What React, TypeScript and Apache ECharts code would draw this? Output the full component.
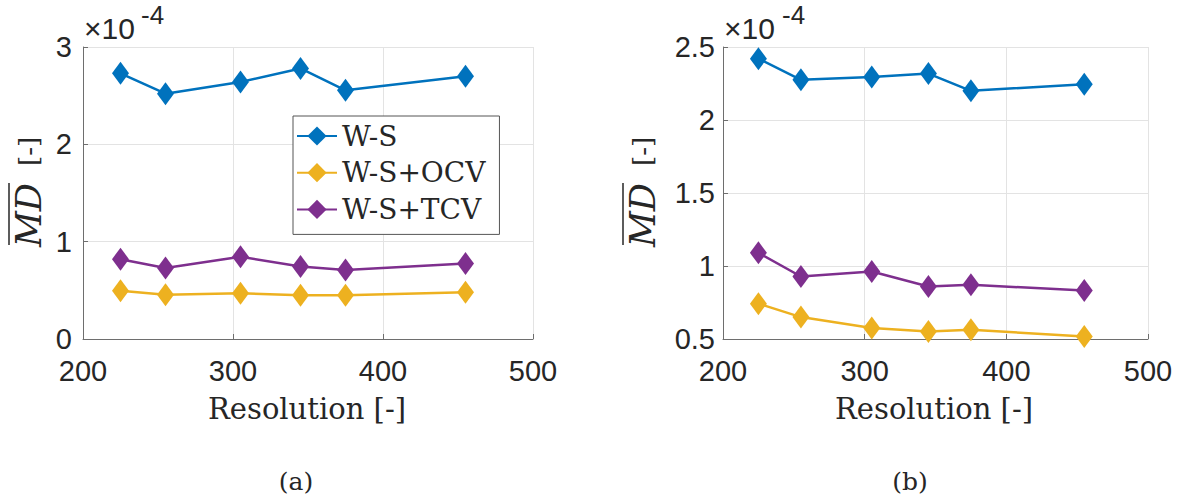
import React, { useEffect, useRef } from "react";
import * as echarts from "echarts";

// Resolution values (x)
const resolutions = [225, 255, 305, 345, 375, 455];
// Values in units of 1e-4 (axis shows ×10^-4)
const seriesNames = ["W-S", "W-S+OCV", "W-S+TCV"];
const a_WS = [2.73, 2.52, 2.64, 2.78, 2.555, 2.7];
const a_OCV = [0.495, 0.455, 0.47, 0.45, 0.45, 0.48];
const a_TCV = [0.82, 0.73, 0.845, 0.745, 0.71, 0.775];
const b_WS = [2.42, 2.275, 2.295, 2.318, 2.2, 2.245];
const b_OCV = [0.742, 0.65, 0.575, 0.552, 0.563, 0.517];
const b_TCV = [1.09, 0.928, 0.962, 0.86, 0.871, 0.832];
const xTicks = { min: 200, max: 500, interval: 100 };
const yTicksA = { min: 0, max: 3, interval: 1 };
const yTicksB = { min: 0.5, max: 2.5, interval: 0.5 };
const colors = ["#0072BD", "#EDB120", "#7E2F8E"];

const SANS = "Liberation Sans";
const SERIF = "DejaVu Serif";
const TXT = "#262626";

function pairs(xs: number[], ys: number[]) {
  return xs.map((x, i) => [x, ys[i]]);
}

function ylabel(cx: number, cy: number) {
  return {
    type: "group",
    x: cx,
    y: cy,
    rotation: Math.PI / 2,
    children: [
      {
        type: "text",
        x: -52,
        y: 0,
        style: {
          text: "MD",
          fontFamily: SERIF,
          fontStyle: "italic",
          fontSize: 35,
          fill: TXT,
          align: "left",
          textAlign: "left",
          verticalAlign: "middle",
          textVerticalAlign: "middle",
        },
      },
      {
        type: "line",
        shape: { x1: -50, y1: -20, x2: 12, y2: -20 },
        style: { stroke: TXT, lineWidth: 1.5 },
      },
      {
        type: "text",
        x: 29,
        y: 0,
        style: {
          text: "[-]",
          fontFamily: SERIF,
          fontSize: 26,
          fill: TXT,
          align: "left",
          textAlign: "left",
          verticalAlign: "middle",
          textVerticalAlign: "middle",
        },
      },
    ],
  };
}

function txt(x: number, y: number, text: string, fontSize: number, family: string, align = "center") {
  return {
    type: "text",
    x,
    y,
    style: {
      text,
      fontFamily: family,
      fontSize,
      fill: TXT,
      align,
      textAlign: align,
      verticalAlign: "middle",
      textVerticalAlign: "middle",
    },
  };
}

export default function App() {
  const ref = useRef<HTMLDivElement>(null);
  useEffect(() => {
    if (!ref.current) return;
    const chart = echarts.init(ref.current, undefined, { renderer: "svg" });
    const axisCommon = {
      type: "value",
      axisLine: { show: true, lineStyle: { color: "#6e6e6e", width: 1 } },
      axisTick: { show: true, inside: true, length: 5, lineStyle: { color: "#6e6e6e" } },
      splitLine: { show: true, lineStyle: { color: "#e3e3e3", width: 1 } },
    };
    const xAxisDef = (gi: number) => ({
      ...axisCommon,
      gridIndex: gi,
      min: xTicks.min,
      max: xTicks.max,
      interval: xTicks.interval,
      axisLabel: { fontFamily: SANS, fontSize: 29, color: TXT, margin: 17 },
    });
    const mkSeries = (gi: number, data: number[][], ci: number, name: string) => ({
      type: "line",
      name,
      xAxisIndex: gi,
      yAxisIndex: gi,
      data,
      symbol: "diamond",
      symbolSize: [17, 23],
      itemStyle: { color: colors[ci] },
      lineStyle: { color: colors[ci], width: 2.5 },
      z: 3,
    });
    chart.setOption({
      animation: false,
      backgroundColor: "#ffffff",
      grid: [
        { left: 83, top: 47, width: 450, height: 292 },
        { left: 723, top: 47, width: 425, height: 292 },
      ],
      xAxis: [xAxisDef(0), xAxisDef(1)],
      yAxis: [
        {
          ...axisCommon,
          gridIndex: 0,
          ...yTicksA,
          axisLabel: { fontFamily: SANS, fontSize: 29, color: TXT, margin: 11 },
        },
        {
          ...axisCommon,
          gridIndex: 1,
          ...yTicksB,
          axisLabel: { fontFamily: SANS, fontSize: 29, color: TXT, margin: 8 },
        },
      ],
      legend: {
        orient: "vertical",
        left: 293,
        top: 116,
        data: seriesNames,
        itemWidth: 40,
        itemHeight: 24,
        itemGap: 8.7,
        padding: [6, 14, 11, 3],
        borderColor: "#555555",
        borderWidth: 1,
        backgroundColor: "#ffffff",
        textStyle: { fontFamily: SERIF, fontSize: 28, lineHeight: 28, color: TXT },
      },
      series: [
        mkSeries(0, pairs(resolutions, a_WS), 0, seriesNames[0]),
        mkSeries(0, pairs(resolutions, a_OCV), 1, seriesNames[1]),
        mkSeries(0, pairs(resolutions, a_TCV), 2, seriesNames[2]),
        mkSeries(1, pairs(resolutions, b_WS), 0, seriesNames[0]),
        mkSeries(1, pairs(resolutions, b_OCV), 1, seriesNames[1]),
        mkSeries(1, pairs(resolutions, b_TCV), 2, seriesNames[2]),
      ],
      graphic: [
        ylabel(29, 195),
        ylabel(643, 195),
        txt(84, 28, "×10", 30, SANS, "left"),
        txt(141, 15, "-4", 26, SANS, "left"),
        txt(724, 28, "×10", 30, SANS, "left"),
        txt(782, 15, "-4", 26, SANS, "left"),
        txt(307, 409, "Resolution [-]", 29, SERIF),
        txt(934, 409, "Resolution [-]", 29, SERIF),
        txt(296, 481, "(a)", 25, SERIF),
        txt(910, 481, "(b)", 25, SERIF),
      ],
    });
    return () => chart.dispose();
  }, []);
  return (
    <div
      ref={ref}
      style={{ position: "fixed", left: 0, top: 0, width: 1181, height: 500, background: "#fff" }}
    />
  );
}
